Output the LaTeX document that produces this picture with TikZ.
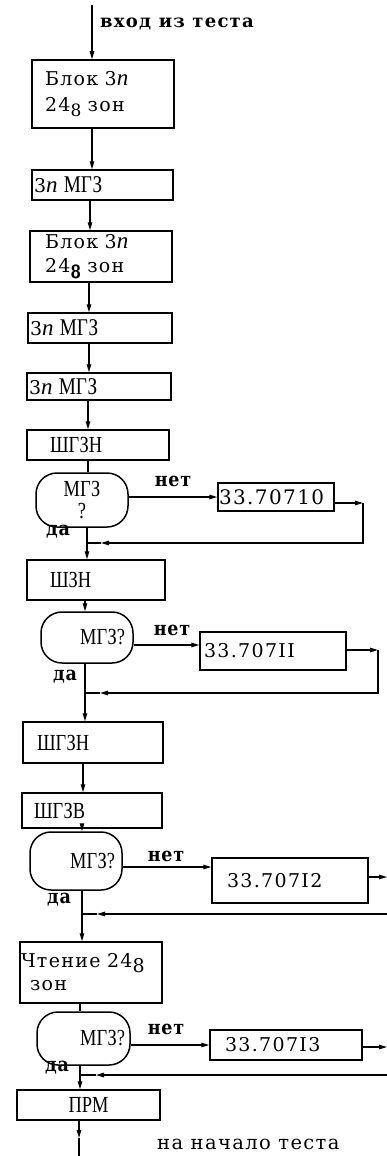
\documentclass[tikz,border=0pt]{standalone}
\usepackage{fontspec}
\setmainfont{Liberation Serif}
\newfontfamily\tw[LetterSpace=7]{DejaVu Serif}
\newfontfamily\twb[LetterSpace=4]{DejaVu Serif Condensed}
\newfontfamily\cs[FakeStretch=0.8]{Liberation Serif}
\usetikzlibrary{arrows.meta}
\newcommand\nIt{{\rmfamily\itshape n}}
\newcommand\mgz{{\cs МГЗ}}
\begin{document}
\begin{tikzpicture}[x=1pt,y=-1pt,
  >={Triangle[length=8pt,width=4.5pt]},
  conn/.style={line width=1.1pt},
  bx/.style={draw,line width=1.5pt,inner ysep=0pt,align=left,font=\tw\fontsize{19}{26}\selectfont},
  dec/.style={draw,line width=1.5pt,rounded corners=21pt,inner ysep=0pt,font=\cs\fontsize{23}{22}\selectfont},
  serifbox/.style={font=\cs\fontsize{23}{22}\selectfont},
  lbl/.style={inner sep=0pt,font=\twb\bfseries\fontsize{19.5}{22}\selectfont}
]
\useasboundingbox (0,0) rectangle (387,1156);

% boxes
\node[bx,minimum width=142,minimum height=68,inner xsep=13,text width=116] (b1) at (103,94)
  {Блок 3{\fontsize{23}{23}\selectfont\nIt}\\24\raisebox{-5pt}{\fontsize{17}{17}\selectfont 8} зон};
\node[bx,minimum width=141,minimum height=30,inner xsep=2,text width=137] (b2) at (102.5,185)
  {3{\fontsize{23}{23}\selectfont\nIt}\ {\fontsize{24}{22}\selectfont\mgz}};
\node[bx,minimum width=142,minimum height=51,inner xsep=15,text width=112,font=\tw\fontsize{19}{24}\selectfont] (b3) at (101,256.5)
  {Блок 3{\fontsize{23}{23}\selectfont\nIt}\\24\raisebox{-6pt}{\sffamily\bfseries\fontsize{19}{19}\selectfont 8} зон};
\node[bx,minimum width=144,minimum height=30,inner xsep=2,text width=140] (b4) at (100,328)
  {3{\fontsize{23}{23}\selectfont\nIt}\ {\fontsize{24}{22}\selectfont\mgz}};
\node[bx,minimum width=144,minimum height=27,inner xsep=2,text width=140] (b5) at (99,386.5)
  {3{\fontsize{23}{23}\selectfont\nIt}\ {\fontsize{24}{22}\selectfont\mgz}};
\node[bx,serifbox,minimum width=142,minimum height=30,inner xsep=23,text width=96] (b6) at (98,445) {ШГЗН};
\node[dec,minimum width=92,minimum height=54,align=center,inner xsep=0pt] (d1) at (82,500) {МГЗ\\?};
\node[bx,minimum width=116,minimum height=28,inner xsep=1,text width=114,font=\tw\fontsize{20}{22}\selectfont] (n1) at (276,497) {33.70710};

\node[bx,serifbox,minimum width=138,minimum height=40,inner xsep=23,text width=92] (b7) at (96,580) {ШЗН};
\node[dec,minimum width=92,minimum height=51,align=right,inner xsep=8,text width=76] (d2) at (87,637.5) {\raisebox{-5pt}{МГЗ?}};
\node[bx,minimum width=146,minimum height=38,inner xsep=4,text width=138] (n2) at (273,651) {33.707II};

\node[bx,serifbox,minimum width=140,minimum height=41,inner xsep=14,text width=112] (b8) at (93,742.5) {ШГЗН};
\node[bx,serifbox,minimum width=140,minimum height=35,inner xsep=12,text width=116] (b9) at (92,810.5) {ШГЗВ};
\node[dec,minimum width=92,minimum height=58,align=right,inner xsep=7,text width=78] (d3) at (76,861) {\raisebox{-6pt}{МГЗ?}};
\node[bx,minimum width=156,minimum height=45,inner xsep=15,text width=126] (n3) at (290,880.5) {33.707I2};

\node[bx,minimum width=142,minimum height=61,inner xsep=1,text width=140,font=\tw\fontsize{19}{23}\selectfont] (b10) at (91,972.5)
  {Чтение 24\raisebox{-5pt}{\fontsize{19}{19}\selectfont 8}\\\hspace*{9pt}зон};
\node[dec,minimum width=93,minimum height=53,align=right,inner xsep=5,text width=83] (d4) at (83.5,1038.5) {\raisebox{-5pt}{МГЗ?}};
\node[bx,minimum width=152,minimum height=30,inner xsep=15,text width=122] (n4) at (286,1045) {33.707I3};
\node[bx,serifbox,minimum width=143,minimum height=30,align=center] (b11) at (88.5,1105) {ПРМ};

% labels
\node[lbl,anchor=west,font=\tw\bfseries\fontsize{18}{22}\selectfont] (lin) at (100,24) {вход из теста};
\node[lbl] (no1) at (173,481) {нет};
\node[lbl] (no2) at (172,630) {нет};
\node[lbl] (no3) at (166,856) {нет};
\node[lbl] (no4) at (166,1029) {нет};
\node[lbl] (yes1) at (58,532) {да};
\node[lbl] (yes2) at (65,677) {да};
\node[lbl] (yes3) at (59,900) {да};
\node[lbl] (yes4) at (57,1068) {да};
\node[lbl,anchor=west,font=\tw\fontsize{19.5}{22}\selectfont] (lout) at (157,1144) {на начало теста};

% main vertical flow
\coordinate (in) at (92,5);
\draw[conn,->] (in) -- (in |- b1.north);
\draw[conn,->] (92,0 |- b1.south) -- (92,0 |- b2.north);
\draw[conn,->] (90,0 |- b2.south) -- (90,0 |- b3.north);
\draw[conn,->] (89,0 |- b3.south) -- (89,0 |- b4.north);
\draw[conn,->] (89,0 |- b4.south) -- (89,0 |- b5.north);
\draw[conn,->] (88,0 |- b5.south) -- (88,0 |- b6.north);
\draw[conn] (88,0 |- b6.south) -- (88,0 |- d1.north);
\draw[conn,->] (87,0 |- d1.south) -- (87,0 |- b7.north);
\draw[conn,->] (85,0 |- b7.south) -- (85,0 |- d2.north);
\draw[conn,->] (85,0 |- d2.south) -- (85,0 |- b8.north);
\draw[conn,->] (83,0 |- b8.south) -- (83,0 |- b9.north);
\draw[conn,->] (82,0 |- b9.south) -- (82,0 |- d3.north);
\draw[conn,->] (82,0 |- d3.south) -- (82,0 |- b10.north);
\draw[conn] (80,0 |- b10.south) -- (80,0 |- d4.north);
\draw[conn,->] (80,0 |- d4.south) -- (80,0 |- b11.north);
\coordinate (outm) at (79,1138);
\coordinate (out) at (79,1156);
\draw[conn,->] (79,0 |- b11.south) -- (outm);
\draw[conn] (outm) -- (out);

% "no" branches
\draw[conn,->] (d1.east |- 0,497) -- (n1.west |- 0,497);
\draw[conn,->] (d2.east |- 0,645) -- (n2.west |- 0,645);
\draw[conn,->] (d3.east |- 0,867) -- (n3.west |- 0,867);
\draw[conn,->] (d4.east |- 0,1045) -- (n4.west |- 0,1045);

% return loops
\coordinate (r1) at (363,503); \coordinate (t1) at (101,543); \coordinate (j1) at (87,543);
\draw[conn,->] (n1.east |- r1) -- (r1);
\draw[conn,->] (r1) |- (t1);
\draw[conn] (t1) -- (j1);

\coordinate (r2) at (378,650); \coordinate (t2) at (100,693); \coordinate (j2) at (85,693);
\draw[conn,->] (n2.east |- r2) -- (r2);
\draw[conn,->] (r2) |- (t2);
\draw[conn] (t2) -- (j2);

\coordinate (r3) at (387,877); \coordinate (s3) at (387,914); \coordinate (t3) at (97,914); \coordinate (j3) at (82,914);
\draw[conn,->] (n3.east |- r3) -- (r3);
\draw[conn,->] (s3) -- (t3);
\draw[conn] (t3) -- (j3);

\coordinate (r4) at (387,1047); \coordinate (s4) at (387,1075); \coordinate (t4) at (96,1075); \coordinate (j4) at (80,1075);
\draw[conn,->] (n4.east |- r4) -- (r4);
\draw[conn,->] (s4) -- (t4);
\draw[conn] (t4) -- (j4);
\end{tikzpicture}
\end{document}
